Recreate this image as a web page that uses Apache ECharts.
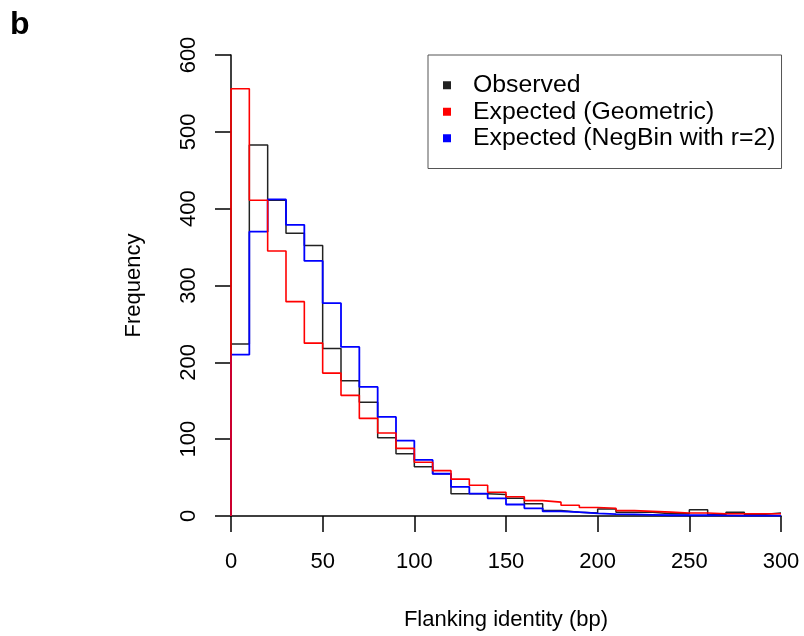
<!DOCTYPE html>
<html>
<head>
<meta charset="utf-8">
<script src="https://cdn.jsdelivr.net/npm/echarts@6/dist/echarts.min.js"></script>
<style>
html, body { margin: 0; padding: 0; background: #fff; }
#chart { width: 804px; height: 636px; }
</style>
</head>
<body>
<div id="chart"></div>
<script>
var chart = echarts.init(document.getElementById('chart'));

// bins of 10 bp, left edges
var binStarts = [0, 10, 20, 30, 40, 50, 60, 70, 80, 90, 100, 110, 120, 130, 140,
                 150, 160, 170, 180, 190, 200, 210, 220, 230, 240, 250, 260, 270, 280, 290];
var binEnd = 300;

var observed = [224, 483, 411, 368, 352, 218, 176, 148, 102, 81, 64, 55, 29, 29, 28,
                23, 16, 7, 5, 4, 9, 5, 5, 3, 3, 8, 2, 5, 2, 4];
var geometric = [556, 411, 345, 279, 225, 186, 157, 127, 108, 88, 70, 59, 48, 40, 31,
                 25, 20, 18, 14, 11, 10, 7, 6, 5, 4, 4, 3, 3, 3, 3];
var negbin = [210, 370, 412, 379, 332, 277, 220, 168, 129, 98, 73, 55, 38, 29, 23,
              15, 10, 6, 5, 3.5, 2.5, 2, 1.5, 1, 1, 1, 0.8, 0.6, 0.5, 0.4];

// outline of a histogram: start at 0, one point per bin, close at last edge
function stepPoints(vals) {
    var pts = [[binStarts[0], 0]];
    vals.forEach(function (v, i) { pts.push([binStarts[i], v]); });
    pts.push([binEnd, vals[vals.length - 1]]);
    return pts;
}

var font = 'Liberation Sans, Arial, Helvetica, sans-serif';

function histSeries(name, vals, color, w) {
    return {
        name: name, type: 'line', step: 'end', data: stepPoints(vals),
        showSymbol: false, color: color,
        lineStyle: { color: color, width: w }
    };
}

var option = {
    animation: false,
    textStyle: { fontFamily: font },
    graphic: [{
        type: 'text', left: 10, top: 9,
        style: { text: 'b', font: 'bold 32px ' + font, fill: '#000' }
    }],
    legend: {
        data: ['Observed', 'Expected (Geometric)', 'Expected (NegBin with r=2)'],
        orient: 'vertical', left: 428, top: 55,
        padding: [17, 6, 17, 15], itemGap: 0,
        icon: 'rect', itemWidth: 8, itemHeight: 8,
        borderColor: '#555', borderWidth: 1,
        textStyle: { fontSize: 24.8, lineHeight: 26.5, color: '#000', fontFamily: font, padding: [0, 0, 0, 17] }
    },
    grid: { left: 231, right: 23, top: 55, bottom: 119 },
    xAxis: {
        type: 'value', min: 0, max: 300, interval: 50,
        name: 'Flanking identity (bp)', nameLocation: 'middle', nameGap: 93,
        nameTextStyle: { fontSize: 22, color: '#000', fontFamily: font },
        axisLine: { show: true, lineStyle: { color: '#000', width: 1.5 } },
        axisTick: { show: true, length: 16, lineStyle: { color: '#000', width: 1.5 } },
        axisLabel: { fontSize: 22, color: '#000', margin: 35, fontFamily: font },
        splitLine: { show: false }
    },
    yAxis: {
        type: 'value', min: 0, max: 600, interval: 100,
        name: 'Frequency', nameLocation: 'middle', nameGap: 86,
        nameTextStyle: { fontSize: 22, color: '#000', fontFamily: font },
        axisLine: { show: true, lineStyle: { color: '#000', width: 1.5 } },
        axisTick: { show: true, length: 16, lineStyle: { color: '#000', width: 1.5 } },
        axisLabel: { fontSize: 22, color: '#000', margin: 31, rotate: 90, fontFamily: font },
        splitLine: { show: false }
    },
    series: [
        histSeries('Observed', observed, '#222222', 1.5),
        histSeries('Expected (NegBin with r=2)', negbin, '#0000ff', 1.8),
        histSeries('Expected (Geometric)', geometric, '#ff0000', 1.6)
    ]
};

chart.setOption(option);
</script>
</body>
</html>
